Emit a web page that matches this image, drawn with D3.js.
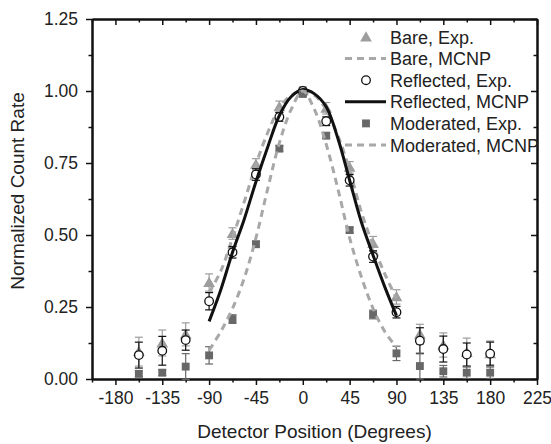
<!DOCTYPE html>
<html>
<head>
<meta charset="utf-8">
<script src="https://cdn.jsdelivr.net/npm/d3@7"></script>
<style>
    body { margin: 0; background: #fff; }
    text { font-family: "Liberation Sans", Arial, sans-serif; fill: #222; }
</style>
</head>
<body>
<div id="wrapper"></div>
<script>
// data
const angles = [-157.5, -135, -112.5, -90, -67.5, -45, -22.5, 0, 22.5, 45, 67.5, 90, 112.5, 135, 157.5, 180]
const bareExp = [0.095, 0.125, 0.155, 0.335, 0.505, 0.745, 0.945, 1.0, 0.94, 0.735, 0.47, 0.285, 0.155, 0.118, 0.092, 0.087]
const bareErr = [0.05, 0.045, 0.04, 0.03, 0.02, 0.02, 0.02, 0.015, 0.02, 0.02, 0.025, 0.025, 0.035, 0.042, 0.05, 0.045]
const reflExp = [0.083, 0.098, 0.135, 0.27, 0.44, 0.71, 0.91, 1.0, 0.895, 0.69, 0.425, 0.232, 0.133, 0.104, 0.085, 0.088]
const reflErr = [0.045, 0.05, 0.035, 0.03, 0.02, 0.02, 0.015, 0.01, 0.015, 0.02, 0.02, 0.02, 0.045, 0.045, 0.04, 0.04]
const modExp = [0.018, 0.022, 0.043, 0.082, 0.208, 0.468, 0.80, 0.99, 0.845, 0.517, 0.224, 0.089, 0.045, 0.027, 0.022, 0.022]
const modErr = [0.01, 0.01, 0.045, 0.03, 0.015, 0.01, 0.01, 0.01, 0.01, 0.01, 0.015, 0.025, 0.045, 0.02, 0.02, 0.02]

const mcnpAngles = [-90, -78.75, -67.5, -56.25, -45, -33.75, -22.5, -11.25, 0, 11.25, 22.5, 33.75, 45, 56.25, 67.5, 78.75, 90]
const bareMcnp = [0.30, 0.375, 0.49, 0.615, 0.745, 0.855, 0.94, 0.985, 1.0, 0.985, 0.935, 0.845, 0.725, 0.58, 0.465, 0.365, 0.28]
const reflMcnp = [0.20, 0.31, 0.44, 0.555, 0.685, 0.805, 0.915, 0.98, 1.005, 0.99, 0.945, 0.835, 0.69, 0.545, 0.43, 0.32, 0.22]
const modMcnp = [0.10, 0.165, 0.245, 0.35, 0.49, 0.66, 0.82, 0.935, 1.0, 0.935, 0.815, 0.66, 0.49, 0.355, 0.245, 0.165, 0.11]

const xTicks = [-180, -135, -90, -45, 0, 45, 90, 135, 180, 225]
const yTicks = [0, 0.25, 0.5, 0.75, 1.0, 1.25]

const legendLabels = ["Bare, Exp.", "Bare, MCNP", "Reflected, Exp.", "Reflected, MCNP", "Moderated, Exp.", "Moderated, MCNP"]

// chart dimensions
const dimensions = {
    width: 551,
    height: 444,
    margin: { top: 19, right: 14, bottom: 65, left: 92 }
}
dimensions.boundedWidth = dimensions.width - dimensions.margin.left - dimensions.margin.right
dimensions.boundedHeight = dimensions.height - dimensions.margin.top - dimensions.margin.bottom

const lightGray = "#9d9d9d"
const darkGray = "#686868"

const svg = d3.select("#wrapper")
    .append("svg")
    .attr("width", dimensions.width)
    .attr("height", dimensions.height)

const bounds = svg.append("g")
    .attr("transform", `translate(${dimensions.margin.left},${dimensions.margin.top})`)

// scales
const xScale = d3.scaleLinear()
    .domain([-202.5, 225])
    .range([0, dimensions.boundedWidth])

const yScale = d3.scaleLinear()
    .domain([0, 1.25])
    .range([dimensions.boundedHeight, 0])

const xMinor = d3.range(-202.5, 225, 22.5).filter(v => !xTicks.includes(v))
const yMinor = d3.range(0.125, 1.25, 0.25)

// axes: bottom/left outward, top/right mirrored inward
function styleAxis(g) {
    g.select(".domain").attr("stroke", "#111").attr("stroke-width", 2)
    g.selectAll(".tick line").attr("stroke", "#111").attr("stroke-width", 1.5)
    g.selectAll(".tick text").style("font-size", "17.5px")
}

const xAxis = bounds.append("g")
    .attr("transform", `translate(0,${dimensions.boundedHeight})`)
    .call(d3.axisBottom(xScale).tickValues(xTicks).tickSize(6).tickPadding(7).tickSizeOuter(0)
        .tickFormat(d => String(d)))
    .call(styleAxis)
bounds.append("g")
    .attr("transform", `translate(0,${dimensions.boundedHeight})`)
    .call(d3.axisBottom(xScale).tickValues(xMinor).tickSize(3.5).tickFormat("").tickSizeOuter(0))
    .call(styleAxis)

bounds.append("g")
    .call(d3.axisTop(xScale).tickValues(xTicks).tickSize(-6).tickFormat("").tickSizeOuter(0))
    .call(styleAxis)
bounds.append("g")
    .call(d3.axisTop(xScale).tickValues(xMinor).tickSize(-3.5).tickFormat("").tickSizeOuter(0))
    .call(styleAxis)

const yAxis = bounds.append("g")
    .call(d3.axisLeft(yScale).tickValues(yTicks).tickSize(6).tickPadding(8).tickSizeOuter(0).tickFormat(d3.format(".2f")))
    .call(styleAxis)
bounds.append("g")
    .call(d3.axisLeft(yScale).tickValues(yMinor).tickSize(3.5).tickFormat("").tickSizeOuter(0))
    .call(styleAxis)

bounds.append("g")
    .attr("transform", `translate(${dimensions.boundedWidth},0)`)
    .call(d3.axisRight(yScale).tickValues(yTicks).tickSize(-6).tickFormat("").tickSizeOuter(0))
    .call(styleAxis)
bounds.append("g")
    .attr("transform", `translate(${dimensions.boundedWidth},0)`)
    .call(d3.axisRight(yScale).tickValues(yMinor).tickSize(-3.5).tickFormat("").tickSizeOuter(0))
    .call(styleAxis)

// axis titles
svg.append("text")
    .attr("x", dimensions.margin.left + dimensions.boundedWidth / 2)
    .attr("y", 438)
    .attr("text-anchor", "middle")
    .style("font-size", "19px")
    .text("Detector Position (Degrees)")

svg.append("text")
    .attr("transform", `translate(24,${dimensions.margin.top + dimensions.boundedHeight / 2 - 8}) rotate(-90)`)
    .attr("text-anchor", "middle")
    .style("font-size", "19px")
    .text("Normalized Count Rate")

// helpers
const lineGen = d3.line()
    .x(d => xScale(d[0]))
    .y(d => yScale(d[1]))
    .curve(d3.curveCatmullRom)

function drawErrors(values, errs, color) {
    const g = bounds.append("g").attr("stroke", color).attr("stroke-width", 1.2)
    angles.forEach((a, i) => {
        const x = xScale(a)
        const y0 = yScale(values[i] - errs[i])
        const y1 = yScale(values[i] + errs[i])
        g.append("line").attr("x1", x).attr("x2", x).attr("y1", y0).attr("y2", y1)
        g.append("line").attr("x1", x - 4).attr("x2", x + 4).attr("y1", y0).attr("y2", y0)
        g.append("line").attr("x1", x - 4).attr("x2", x + 4).attr("y1", y1).attr("y2", y1)
    })
}

function drawLine(xs, ys, color, dashed) {
    bounds.append("path")
        .datum(xs.map((x, i) => [x, ys[i]]))
        .attr("d", lineGen)
        .attr("fill", "none")
        .attr("stroke", color)
        .attr("stroke-width", 3)
        .attr("stroke-dasharray", dashed ? "7,5" : null)
}

const triangle = d3.symbol().type(d3.symbolTriangle).size(60)
const square = d3.symbol().type(d3.symbolSquare).size(62)

// bare
drawErrors(bareExp, bareErr, lightGray)
bounds.append("g").selectAll("path")
    .data(angles)
    .join("path")
    .attr("d", triangle)
    .attr("transform", (d, i) => `translate(${xScale(d)},${yScale(bareExp[i]) + 1})`)
    .attr("fill", lightGray)
drawLine(mcnpAngles, bareMcnp, "#a8a8a8", true)

// reflected
drawErrors(reflExp, reflErr, "#111")
bounds.append("g").selectAll("circle")
    .data(angles)
    .join("circle")
    .attr("cx", d => xScale(d))
    .attr("cy", (d, i) => yScale(reflExp[i]))
    .attr("r", 4.3)
    .attr("fill", "#fff")
    .attr("stroke", "#111")
    .attr("stroke-width", 1.3)
drawLine(mcnpAngles, reflMcnp, "#111", false)

// moderated
drawErrors(modExp, modErr, darkGray)
bounds.append("g").selectAll("path")
    .data(angles)
    .join("path")
    .attr("d", square)
    .attr("transform", (d, i) => `translate(${xScale(d)},${yScale(modExp[i])})`)
    .attr("fill", darkGray)
drawLine(mcnpAngles, modMcnp, "#a8a8a8", true)

// legend
const legend = svg.append("g")
const rowY = i => 37 + i * 21.6
legendLabels.forEach((label, i) => {
    const y = rowY(i)
    if (i === 0) {
        legend.append("path").attr("d", triangle).attr("transform", `translate(366,${y + 1})`).attr("fill", lightGray)
    } else if (i === 2) {
        legend.append("circle").attr("cx", 366).attr("cy", y).attr("r", 4.3)
            .attr("fill", "#fff").attr("stroke", "#111").attr("stroke-width", 1.3)
    } else if (i === 4) {
        legend.append("path").attr("d", square).attr("transform", `translate(366,${y})`).attr("fill", darkGray)
    } else {
        legend.append("line")
            .attr("x1", 345).attr("x2", 386).attr("y1", y).attr("y2", y)
            .attr("stroke", i === 3 ? "#111" : "#a8a8a8")
            .attr("stroke-width", 3)
            .attr("stroke-dasharray", i === 3 ? null : "7,5")
    }
    legend.append("text")
        .attr("x", 390)
        .attr("y", y + 6.5)
        .style("font-size", "18px")
        .text(label)
})
</script>
</body>
</html>
